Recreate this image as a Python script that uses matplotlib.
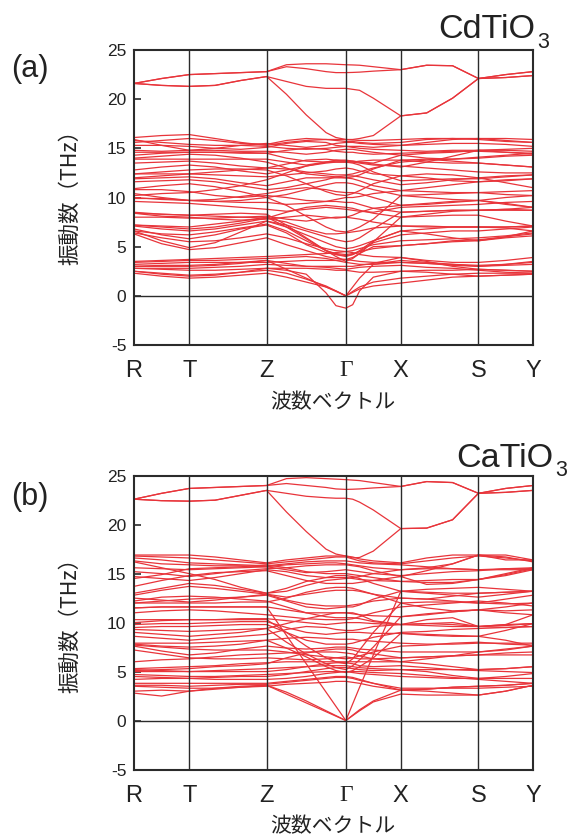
import numpy as np
import matplotlib
matplotlib.use("Agg")
import matplotlib.pyplot as plt

plt.rcParams['font.family'] = ['Liberation Sans', 'DejaVu Sans']

# ---------------- path / labels ----------------
sym_labels = ['R', 'T', 'Z', 'Γ', 'X', 'S', 'Y']
sym_pos = [0.0, 55.3, 132.7, 212.0, 267.0, 344.7, 399.3]
# sample fractions inside each segment (R-T, T-Z, Z-Γ, Γ-X, X-S, S-Y)
seg_fracs = [[0, .5], [0, 1/3, 2/3], [0, .25, .5, .75, .875],
             [0, .125, .25, .5], [0, 1/3, 2/3], [0, .5, 1.0]]
y_ticks = [-5, 0, 5, 10, 15, 20, 25]

# ---------------- CdTiO3 (a) ----------------
# columns: R, R-T/2, T, T+1/3, T+2/3, Z, Z+1/4, Z+1/2, Z+3/4, Z+7/8, Γ, Γ+1/8, Γ+1/4, Γ+1/2, X, X+1/3, X+2/3, S, S+1/2, Y
cd_upper = [
    [21.6, 22.1, 22.5, 22.6, 22.7, 22.8, 23.5, 23.6, 23.6, 23.55, 23.5, 23.48, 23.45, 23.3, 23.0, 23.45, 23.4, 22.1, 22.5, 22.8],
    [21.6, 22.1, 22.5, 22.6, 22.7, 22.8, 23.3, 23.1, 22.8, 22.7, 22.7, 22.72, 22.75, 22.85, 23.0, 23.45, 23.4, 22.1, 22.2, 22.4],
    [21.6, 21.4, 21.3, 21.4, 21.9, 22.3, 21.8, 21.3, 21.1, 21.1, 21.1, 21.0, 20.9, 20.1, 18.3, 18.6, 20.1, 22.1, 22.5, 22.8],
    [21.6, 21.4, 21.3, 21.4, 21.9, 22.3, 20.5, 18.4, 16.6, 16.1, 15.9, 15.9, 16.0, 16.3, 18.3, 18.6, 20.1, 22.1, 22.2, 22.4],
]
cd_optic = [
    [16.1, 16.3, 16.4, 16.0, 15.6, 15.3, 15.6, 15.8, 15.9, 15.9, 15.9, 15.85, 15.8, 15.8, 15.9, 16.0, 16.0, 16.0, 16.0, 15.9],
    [15.9, 15.3, 14.8, 15.0, 15.3, 15.5, 15.3, 15.1, 15.3, 15.5, 15.6, 15.6, 15.5, 15.4, 15.3, 15.4, 15.5, 15.5, 15.4, 15.2],
    [15.3, 15.3, 15.2, 15.0, 14.9, 15.1, 15.5, 15.7, 15.6, 15.3, 15.2, 15.1, 15.0, 14.9, 14.8, 14.7, 14.8, 14.8, 14.8, 14.7],
    [14.8, 14.7, 14.8, 14.8, 14.7, 14.7, 14.6, 14.4, 14.6, 14.8, 14.9, 14.9, 14.8, 14.6, 14.3, 14.0, 13.9, 14.1, 14.3, 14.5],
    [14.3, 14.5, 14.6, 14.6, 14.5, 14.5, 14.0, 13.7, 13.6, 13.6, 13.6, 13.6, 13.7, 13.8, 13.8, 13.6, 13.5, 13.5, 13.3, 13.1],
    [13.9, 13.9, 13.9, 13.9, 13.9, 13.9, 13.6, 13.3, 13.6, 13.7, 13.7, 13.7, 13.6, 13.4, 13.1, 13.6, 14.2, 14.8, 14.9, 15.0],
    [12.8, 13.1, 13.3, 13.1, 12.7, 12.4, 12.8, 13.2, 13.5, 13.6, 13.6, 13.5, 13.3, 12.6, 11.7, 11.8, 11.9, 11.9, 12.1, 12.3],
    [12.4, 12.4, 12.4, 12.3, 12.2, 12.1, 12.3, 12.5, 12.7, 12.9, 13.0, 12.9, 12.7, 12.4, 12.2, 12.0, 11.7, 11.6, 11.8, 11.9],
    [11.9, 12.0, 12.1, 11.9, 11.5, 11.2, 11.6, 12.0, 12.0, 12.0, 12.0, 11.9, 11.7, 11.2, 10.7, 10.6, 10.5, 10.5, 10.6, 10.7],
    [10.9, 11.2, 11.4, 11.1, 10.6, 10.0, 10.3, 10.8, 11.3, 11.5, 11.5, 11.4, 11.2, 10.8, 10.2, 10.0, 9.8, 9.7, 10.0, 10.2],
    [10.4, 10.0, 9.7, 9.8, 10.1, 10.4, 10.8, 11.0, 10.8, 10.6, 10.5, 10.5, 10.4, 10.0, 9.2, 9.3, 9.5, 9.7, 9.3, 9.0],
    [10.0, 9.8, 9.7, 9.6, 9.5, 9.5, 9.3, 9.4, 9.6, 9.6, 9.5, 9.5, 9.3, 8.9, 8.5, 8.6, 8.7, 8.7, 8.7, 8.7],
    [8.5, 8.3, 8.2, 8.1, 8.0, 7.9, 8.5, 9.0, 9.2, 9.1, 9.0, 8.9, 8.7, 8.4, 8.0, 8.1, 8.2, 8.2, 7.6, 7.1],
    [8.0, 8.0, 7.9, 7.9, 8.0, 8.1, 7.8, 7.6, 7.9, 8.0, 8.0, 7.9, 7.8, 7.5, 7.1, 7.0, 7.0, 7.0, 6.9, 6.6],
    [7.1, 6.8, 6.6, 6.8, 7.2, 7.6, 7.0, 6.2, 5.4, 5.0, 4.8, 4.9, 5.1, 5.6, 6.6, 6.3, 5.9, 5.6, 5.9, 6.1],
    [6.6, 5.6, 4.9, 5.4, 6.5, 7.6, 7.2, 6.6, 6.0, 5.7, 5.5, 5.6, 5.9, 6.8, 8.5, 8.6, 8.7, 8.7, 8.8, 8.7],
    [6.3, 5.3, 4.7, 4.9, 5.4, 5.9, 5.2, 4.6, 4.0, 3.8, 3.7, 3.9, 4.3, 5.0, 5.1, 5.3, 5.5, 5.6, 6.0, 6.6],
    [7.2, 7.0, 6.8, 7.0, 7.4, 7.9, 7.5, 6.8, 6.3, 6.3, 6.4, 6.5, 6.6, 6.9, 7.1, 7.1, 7.0, 7.0, 7.0, 7.1],
    [8.4, 8.1, 8.0, 7.8, 7.7, 7.8, 8.0, 8.2, 8.0, 7.9, 8.0, 8.2, 8.5, 8.9, 9.2, 9.4, 9.6, 9.7, 9.4, 9.0],
    [9.9, 9.9, 9.7, 9.6, 9.7, 10.0, 9.2, 8.1, 7.0, 6.6, 6.5, 6.7, 7.0, 7.8, 10.2, 10.3, 10.4, 10.5, 10.3, 10.2],
    [10.8, 10.8, 10.6, 10.2, 10.0, 10.2, 10.0, 9.7, 9.6, 9.8, 10.0, 10.0, 10.1, 10.4, 10.7, 11.0, 11.3, 11.6, 11.7, 11.9],
    [3.5, 3.6, 3.7, 3.8, 3.9, 4.0, 4.1, 4.2, 4.3, 4.4, 4.5, 4.4, 4.2, 4.0, 3.9, 3.6, 3.4, 3.4, 3.6, 3.9],
    [3.2, 3.3, 3.4, 3.4, 3.4, 3.4, 3.5, 3.6, 3.6, 3.6, 3.7, 3.6, 3.5, 3.4, 3.4, 3.3, 3.2, 3.1, 3.2, 3.4],
    [2.8, 2.8, 2.8, 2.9, 3.0, 3.2, 3.1, 3.0, 3.0, 3.0, 3.0, 3.0, 3.1, 3.3, 3.9, 3.5, 3.0, 2.7, 2.6, 2.5],
    [2.5, 2.2, 2.0, 2.1, 2.4, 2.8, 2.8, 2.8, 2.7, 2.6, 2.6, 2.5, 2.4, 2.4, 2.5, 2.4, 2.2, 2.0, 2.1, 2.2],
    [7.2, 7.1, 7.0, 7.3, 7.6, 8.0, 7.0, 5.8, 4.6, 4.0, 3.5, 3.8, 4.3, 5.5, 8.0, 8.3, 8.6, 8.7, 8.8, 9.0],
    [8.4, 8.3, 8.2, 8.3, 8.4, 8.3, 7.2, 5.9, 4.6, 4.2, 4.0, 4.2, 4.6, 5.6, 6.6, 6.8, 7.0, 7.0, 7.0, 7.1],
    [12.4, 12.6, 12.8, 12.9, 12.9, 12.8, 12.2, 11.4, 10.6, 10.3, 10.2, 10.4, 10.7, 11.4, 12.2, 12.4, 12.3, 12.0, 12.2, 12.3],
    [14.0, 14.2, 14.4, 14.3, 14.0, 13.6, 13.0, 12.4, 12.2, 12.1, 12.0, 12.1, 12.3, 12.9, 13.8, 13.9, 13.7, 13.5, 13.3, 13.1],
    [10.2, 10.4, 10.5, 10.8, 11.2, 11.8, 12.5, 13.2, 13.6, 13.8, 13.8, 13.7, 13.6, 13.5, 14.3, 14.5, 14.6, 14.8, 14.6, 14.5],
    [15.8, 15.6, 15.4, 15.3, 15.3, 15.2, 15.0, 14.9, 15.0, 15.1, 15.2, 15.2, 15.2, 15.1, 15.3, 15.6, 15.9, 16.0, 15.8, 15.6],
    [6.6, 6.3, 6.2, 6.5, 6.9, 7.3, 6.6, 5.6, 4.6, 4.3, 4.2, 4.3, 4.5, 4.8, 5.1, 5.3, 5.6, 5.7, 6.0, 6.3],
    [15.6, 15.8, 16.0, 15.8, 15.5, 15.4, 15.8, 16.0, 15.9, 15.8, 15.7, 15.7, 15.6, 15.5, 15.6, 15.9, 16.0, 15.9, 15.7, 15.6],
    [14.6, 14.6, 14.6, 14.6, 14.6, 14.5, 14.8, 15.0, 14.9, 14.7, 14.6, 14.6, 14.5, 14.4, 14.5, 14.6, 14.7, 14.7, 14.6, 14.4],
    [13.5, 13.6, 13.7, 13.5, 13.2, 13.0, 13.4, 13.8, 13.9, 13.8, 13.7, 13.6, 13.5, 13.3, 13.2, 13.0, 12.8, 12.6, 12.5, 12.5],
    [11.6, 11.7, 11.8, 11.6, 11.2, 10.8, 11.0, 11.4, 11.8, 12.1, 12.2, 12.2, 12.1, 11.8, 11.3, 11.5, 11.8, 12.0, 11.5, 11.0],
    [9.6, 9.5, 9.4, 9.2, 9.0, 8.8, 8.6, 8.8, 9.0, 8.9, 8.8, 8.7, 8.6, 8.5, 9.0, 9.1, 9.2, 9.3, 9.5, 9.6],
    [6.8, 6.2, 5.8, 6.2, 6.8, 7.2, 6.4, 5.2, 4.4, 4.2, 4.1, 4.2, 4.5, 5.4, 6.2, 6.4, 6.6, 6.6, 6.8, 7.0],
    [3.4, 3.5, 3.6, 3.6, 3.7, 3.8, 3.9, 4.0, 3.8, 3.6, 3.4, 3.3, 3.2, 3.2, 3.6, 3.4, 3.2, 3.0, 3.1, 3.2],
    [3.0, 3.1, 3.1, 3.2, 3.4, 3.6, 3.3, 3.0, 2.9, 2.8, 2.7, 2.8, 2.9, 3.0, 3.1, 2.9, 2.8, 2.6, 2.4, 2.3],
    [12.0, 12.2, 12.4, 12.6, 12.8, 13.0, 12.9, 12.6, 12.4, 12.3, 12.3, 12.4, 12.6, 13.0, 13.6, 13.8, 13.9, 14.0, 14.2, 14.3],
    [6.4, 5.9, 5.5, 5.6, 5.9, 6.3, 5.9, 5.3, 4.8, 4.6, 4.5, 4.6, 4.8, 5.2, 5.6, 5.7, 5.8, 5.9, 6.1, 6.4],
]
cd_acoustic = [
    [2.3, 2.0, 1.8, 1.9, 2.1, 2.3, 1.9, 1.4, 0.9, 0.5, 0.0, 0.35, 0.7, 1.0, 1.3, 1.6, 1.9, 2.0, 2.1, 2.2],
    [2.5, 2.3, 2.1, 2.2, 2.4, 2.6, 2.3, 1.7, 1.0, 0.5, 0.0, 0.45, 0.9, 1.4, 1.8, 2.0, 2.2, 2.3, 2.3, 2.3],
    [2.8, 2.7, 2.6, 2.6, 2.7, 2.8, 2.6, 2.2, 0.3, -1.0, -1.25, -0.9, 0.5, 1.9, 2.5, 2.6, 2.6, 2.7, 2.6, 2.5],
    [3.0, 3.0, 3.0, 3.1, 3.3, 3.6, 2.7, 1.8, 0.9, 0.45, 0.0, 0.9, 1.8, 3.2, 3.4, 3.3, 3.1, 3.0, 3.2, 3.5],
]

# ---------------- CaTiO3 (b) ----------------
ca_upper = [
    [22.6, 23.2, 23.7, 23.8, 23.9, 24.0, 24.7, 24.8, 24.7, 24.65, 24.6, 24.55, 24.5, 24.3, 23.9, 24.4, 24.3, 23.2, 23.7, 24.0],
    [22.6, 23.2, 23.7, 23.8, 23.9, 24.0, 24.2, 24.0, 23.8, 23.65, 23.6, 23.62, 23.65, 23.75, 23.9, 24.4, 24.3, 23.2, 23.3, 23.5],
    [22.6, 22.45, 22.4, 22.5, 23.0, 23.5, 23.2, 22.9, 22.75, 22.7, 22.7, 22.6, 22.3, 21.5, 19.6, 19.65, 20.5, 23.2, 23.7, 24.0],
    [22.6, 22.45, 22.4, 22.5, 23.0, 23.5, 21.3, 19.3, 17.5, 17.0, 16.8, 16.6, 16.65, 17.3, 19.6, 19.65, 20.5, 23.2, 23.3, 23.5],
]
ca_optic = [
    [16.9, 16.9, 16.9, 16.7, 16.4, 16.1, 16.4, 16.6, 16.8, 16.8, 16.8, 16.7, 16.5, 16.3, 16.1, 16.6, 16.9, 16.9, 16.9, 16.4],
    [16.6, 16.4, 16.1, 16.0, 15.9, 15.8, 16.0, 16.2, 16.3, 16.3, 16.3, 16.2, 16.1, 16.0, 15.9, 15.7, 15.5, 15.4, 15.5, 15.5],
    [16.2, 15.6, 15.0, 14.4, 13.6, 13.0, 13.2, 13.8, 14.3, 14.4, 14.5, 14.6, 14.7, 15.0, 15.4, 15.5, 15.5, 15.4, 15.4, 15.4],
    [15.2, 15.0, 14.7, 15.0, 15.3, 15.5, 15.6, 15.8, 15.9, 15.9, 15.9, 15.8, 15.7, 15.3, 14.7, 13.9, 14.0, 14.4, 15.0, 15.6],
    [14.5, 14.9, 15.5, 15.6, 15.7, 15.9, 15.6, 15.2, 15.0, 15.0, 15.0, 14.9, 14.8, 14.6, 14.2, 14.3, 14.4, 14.4, 14.9, 15.5],
    [13.7, 14.3, 14.8, 15.1, 15.2, 15.3, 14.8, 14.3, 14.0, 14.0, 14.0, 14.0, 14.1, 14.3, 14.7, 15.3, 16.0, 16.9, 16.7, 16.2],
    [12.8, 13.3, 13.7, 13.5, 13.2, 12.9, 12.6, 12.9, 13.2, 13.3, 13.3, 13.3, 13.2, 12.9, 12.5, 12.4, 12.7, 13.0, 13.1, 13.2],
    [12.5, 12.3, 12.1, 12.3, 12.6, 12.9, 12.3, 11.9, 11.7, 11.7, 11.7, 11.8, 11.9, 12.2, 12.5, 12.4, 12.2, 12.0, 12.4, 12.8],
    [12.0, 12.0, 12.0, 12.0, 12.1, 12.1, 12.5, 13.1, 13.5, 13.6, 13.6, 13.5, 13.3, 12.9, 12.0, 11.5, 11.2, 11.3, 11.6, 12.0],
    [11.5, 11.6, 11.6, 11.6, 11.6, 11.6, 11.3, 11.0, 11.0, 11.0, 11.0, 10.9, 10.8, 10.7, 10.6, 10.9, 11.1, 11.3, 11.2, 11.3],
    [10.3, 10.3, 10.3, 10.3, 10.4, 10.4, 10.2, 10.0, 9.8, 9.9, 10.0, 10.0, 10.0, 9.9, 9.8, 9.7, 9.6, 9.6, 9.8, 10.8],
    [9.8, 9.9, 9.9, 10.0, 10.1, 10.1, 9.5, 9.0, 8.8, 8.9, 9.0, 9.0, 9.0, 8.9, 8.9, 8.7, 8.6, 8.6, 9.2, 9.9],
    [9.3, 9.2, 9.1, 9.2, 9.3, 9.4, 9.9, 10.4, 10.8, 11.0, 11.0, 11.0, 10.8, 10.2, 9.8, 10.3, 10.5, 9.6, 9.5, 9.6],
    [7.9, 7.9, 7.9, 8.0, 8.1, 8.2, 8.4, 8.5, 8.4, 8.3, 8.3, 8.3, 8.2, 8.1, 7.9, 7.8, 7.8, 7.9, 7.9, 7.9],
    [7.6, 7.1, 6.7, 6.9, 7.3, 7.6, 7.4, 7.3, 7.4, 7.5, 7.5, 7.4, 7.3, 7.2, 7.0, 7.0, 7.0, 7.0, 7.3, 7.6],
    [7.2, 6.8, 6.4, 6.3, 6.3, 6.4, 6.3, 6.2, 6.3, 6.4, 6.5, 6.4, 6.3, 6.3, 6.4, 6.5, 6.6, 6.7, 6.7, 6.7],
    [5.3, 5.4, 5.5, 5.6, 5.8, 5.9, 6.0, 6.0, 6.0, 6.0, 6.0, 6.0, 6.0, 6.0, 6.0, 5.8, 5.5, 5.2, 5.3, 5.5],
    [5.0, 5.0, 5.0, 5.1, 5.2, 5.3, 5.4, 5.5, 5.6, 5.6, 5.6, 5.5, 5.4, 5.3, 5.2, 5.0, 4.6, 4.3, 4.5, 4.8],
    [4.7, 4.6, 4.5, 4.5, 4.6, 4.7, 4.8, 4.9, 5.0, 5.0, 5.0, 4.9, 4.8, 4.7, 4.5, 4.4, 4.3, 4.3, 4.3, 4.3],
    [3.8, 3.8, 3.8, 3.8, 3.8, 3.8, 4.0, 4.2, 4.4, 4.5, 4.5, 4.4, 4.2, 3.8, 3.1, 3.2, 3.4, 3.5, 3.6, 3.8],
    [3.5, 3.4, 3.3, 3.3, 3.4, 3.5, 3.7, 3.8, 3.9, 4.0, 4.0, 3.9, 3.8, 3.5, 3.1, 3.0, 2.8, 2.6, 3.0, 3.6],
    [10.0, 10.2, 10.3, 10.3, 10.3, 10.3, 9.0, 7.6, 6.4, 6.0, 5.8, 6.3, 7.2, 9.0, 12.0, 12.1, 12.1, 12.0, 11.9, 12.0],
    [9.0, 8.8, 8.6, 8.8, 9.0, 9.4, 8.0, 6.8, 5.8, 5.4, 5.2, 5.6, 6.2, 7.5, 10.6, 10.8, 11.1, 11.3, 11.0, 10.8],
    [7.8, 7.6, 7.5, 7.6, 7.8, 8.2, 7.4, 6.5, 5.5, 5.1, 4.9, 5.1, 5.5, 6.4, 8.9, 8.8, 8.7, 8.6, 8.2, 7.6],
    [16.3, 16.0, 15.9, 15.8, 15.8, 15.7, 15.9, 16.0, 16.1, 16.1, 16.0, 15.9, 15.8, 15.6, 15.4, 15.6, 16.0, 16.9, 16.4, 16.4],
    [14.7, 14.5, 14.3, 14.6, 15.0, 15.4, 15.2, 14.8, 14.6, 14.6, 14.6, 14.5, 14.4, 14.3, 14.2, 14.1, 14.1, 14.4, 14.8, 15.4],
    [12.2, 12.6, 12.7, 12.6, 12.4, 12.2, 11.6, 11.0, 10.6, 10.5, 10.5, 10.5, 10.4, 10.1, 9.8, 9.9, 10.0, 9.6, 9.8, 9.9],
    [5.1, 5.2, 5.3, 5.5, 5.6, 5.8, 6.4, 6.9, 7.2, 7.3, 7.3, 7.2, 7.0, 6.8, 6.4, 6.5, 6.6, 6.7, 6.9, 7.0],
    [4.2, 4.3, 4.3, 4.4, 4.5, 4.5, 4.7, 5.0, 5.3, 5.4, 5.4, 5.3, 5.2, 5.1, 5.2, 5.2, 5.2, 5.2, 5.3, 5.5],
    [8.6, 8.4, 8.2, 8.4, 8.6, 8.8, 9.3, 9.6, 9.5, 9.3, 9.2, 9.2, 9.3, 9.6, 9.8, 9.9, 9.8, 9.6, 9.7, 9.9],
    [6.0, 6.2, 6.3, 6.5, 6.7, 6.8, 6.9, 7.0, 7.0, 7.0, 6.9, 6.8, 6.6, 6.3, 6.0, 6.3, 6.6, 7.0, 7.2, 7.6],
    [16.8, 16.7, 16.6, 16.4, 16.2, 16.0, 16.2, 16.4, 16.6, 16.7, 16.7, 16.5, 16.3, 16.1, 16.0, 16.3, 16.6, 16.8, 16.6, 16.3],
    [15.6, 15.5, 15.4, 15.5, 15.6, 15.7, 15.4, 15.1, 15.2, 15.3, 15.4, 15.3, 15.2, 15.0, 14.8, 15.0, 15.2, 15.3, 15.5, 15.6],
    [13.0, 13.5, 14.0, 13.8, 13.4, 13.0, 13.5, 14.2, 14.6, 14.8, 14.8, 14.7, 14.5, 14.0, 13.2, 13.0, 12.8, 12.6, 12.9, 13.2],
    [11.0, 11.2, 11.3, 11.2, 11.0, 10.8, 10.6, 10.4, 10.3, 10.3, 10.3, 10.4, 10.6, 11.0, 11.6, 11.8, 12.0, 12.2, 12.0, 11.7],
    [9.5, 9.6, 9.6, 9.7, 9.8, 9.8, 9.0, 8.2, 7.8, 7.8, 7.8, 7.9, 8.1, 8.5, 9.0, 9.1, 9.3, 9.4, 9.5, 9.6],
    [7.7, 7.5, 7.3, 7.2, 7.2, 7.2, 7.0, 6.7, 6.5, 6.4, 6.3, 6.4, 6.6, 7.0, 7.6, 7.7, 7.9, 8.0, 7.8, 7.7],
    [5.2, 5.1, 5.0, 5.0, 5.0, 5.0, 5.2, 5.5, 5.8, 5.9, 5.9, 5.8, 5.6, 5.5, 5.6, 5.4, 5.2, 5.1, 5.0, 4.9],
    [4.5, 4.4, 4.3, 4.2, 4.2, 4.2, 4.3, 4.5, 4.8, 4.9, 5.0, 5.0, 5.0, 4.9, 4.8, 4.6, 4.4, 4.2, 4.0, 3.8],
    [3.6, 3.6, 3.5, 3.6, 3.7, 3.7, 3.9, 4.1, 4.3, 4.4, 4.4, 4.3, 4.1, 3.8, 3.3, 3.3, 3.3, 3.3, 3.4, 3.5],
    [12.0, 12.2, 12.4, 12.5, 12.6, 12.8, 12.2, 11.6, 11.4, 11.5, 11.6, 11.6, 11.8, 12.4, 13.2, 13.4, 13.5, 13.6, 13.4, 13.2],
]
ca_acoustic = [
    [2.8, 2.5, 3.0, 3.3, 3.5, 3.6, 2.9, 2.0, 1.0, 0.5, 0.0, 0.5, 1.0, 1.9, 2.7, 2.6, 2.6, 2.6, 3.0, 3.6],
    [3.0, 3.1, 3.0, 3.2, 3.4, 3.6, 2.7, 1.8, 0.9, 0.45, 0.0, 0.55, 1.1, 2.0, 3.1, 3.2, 3.4, 3.5, 3.6, 3.8],
    [11.5, 11.6, 11.6, 11.6, 11.6, 11.6, 8.7, 5.8, 2.9, 1.45, 0.0, 1.7, 3.4, 6.7, 13.2, 13.1, 13.0, 13.0, 13.1, 13.2],
]

panel_tags = ['(a)', '(b)']
formula_main = ['CdTiO', 'CaTiO']
formula_sub = ['3', '3']
y_label = '振動数（THz）'
x_label = '波数ベクトル'

# ---------------- drawing ----------------
kgrid = []
for i, fr in enumerate(seg_fracs):
    a, b = sym_pos[i], sym_pos[i + 1]
    for f in fr:
        kgrid.append(a + f * (b - a))
kgrid = np.array(kgrid)

W, H = 569, 839
fig = plt.figure(figsize=(W / 100, H / 100), dpi=100)
cjk = ['Noto Sans CJK JP', 'DejaVu Sans']
red = '#e8343a'
dark = '#2b2b2b'
txt = '#222222'

panels = [
    dict(top=50, bot=345, bands=cd_upper + cd_optic + cd_acoustic,
         f_right=535, f_base=38, s_left=537, s_base=47.5),
    dict(top=475.7, bot=769.5, bands=ca_upper + ca_optic + ca_acoustic,
         f_right=553, f_base=467, s_left=555, s_base=476),
]
for p, (pan, tag) in enumerate(zip(panels, panel_tags)):
    left, right = 134, 533
    ax = fig.add_axes([left / W, 1 - pan['bot'] / H, (right - left) / W, (pan['bot'] - pan['top']) / H])
    for band in pan['bands']:
        ax.plot(kgrid, band, color=red, lw=0.9, solid_joinstyle='round', zorder=2)
    for xp in sym_pos[1:-1]:
        ax.axvline(xp, color=dark, lw=1.0, zorder=3)
    ax.axhline(0, color=dark, lw=1.0, zorder=3)
    ax.set_xlim(sym_pos[0], sym_pos[-1])
    ax.set_ylim(-5, 25)
    ax.set_yticks(y_ticks)
    ax.set_yticklabels([str(v) for v in y_ticks])
    ax.set_xticks(sym_pos)
    ax.set_xticklabels(sym_labels)
    ax.tick_params(axis='y', direction='in', length=5, width=1.2, color=dark, labelsize=12.5, pad=5.5, labelcolor=txt)
    ax.tick_params(axis='x', length=0, labelsize=17, pad=11, labelcolor=txt)
    for lbl in ax.get_xticklabels():
        if lbl.get_text() == 'Γ':
            lbl.set_fontfamily(['Liberation Serif', 'DejaVu Serif'])
    for s in ax.spines.values():
        s.set_linewidth(1.5)
        s.set_color(dark)
    off = pan['top'] - 50 + (2 if p else 0)
    fig.text(30 / W, 1 - (69 + off) / H, tag, fontsize=22, ha='center', va='center', color=txt)
    fig.text(pan['f_right'] / W, 1 - pan['f_base'] / H, formula_main[p], fontsize=24.5, ha='right', va='baseline', color=txt)
    fig.text(pan['s_left'] / W, 1 - pan['s_base'] / H, formula_sub[p], fontsize=15.5, ha='left', va='baseline', color=txt)
    fig.text(70 / W, 1 - (192 + off) / H, y_label, rotation=90, fontsize=15.5, ha='center', va='center',
             family=cjk, color=txt)
    fig.text(333 / W, 1 - (402 + off - (4 if p else 0)) / H, x_label, fontsize=15, ha='center', va='center',
             family=cjk, color=txt)

fig.savefig('out.png', dpi=100)
